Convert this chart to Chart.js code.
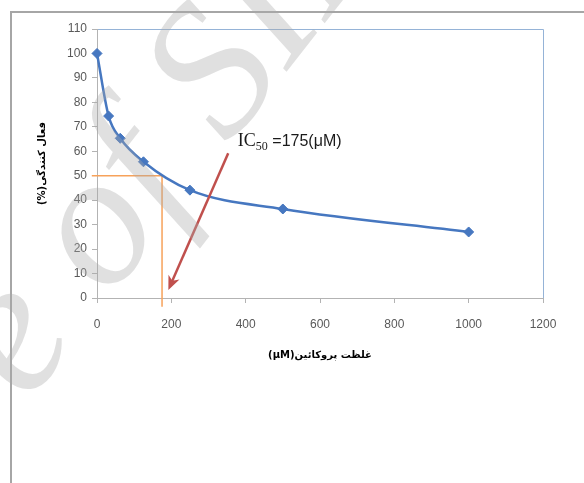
<!DOCTYPE html>
<html>
<head>
<meta charset="utf-8">
<script src="https://cdn.jsdelivr.net/npm/chart.js@4.4.0/dist/chart.umd.min.js"></script>
<style>
  html, body { margin: 0; padding: 0; background: #fff; }
  #wrap { width: 584px; height: 483px; position: relative; }
</style>
</head>
<body>
<div id="wrap"><canvas id="chart" width="584" height="483"></canvas></div>
<script>
// concentration (µM) vs activity (%)
const concentration = [0, 31.25, 62.5, 125, 250, 500, 1000];
const activity = [100, 74.4, 65.3, 55.7, 44.1, 36.4, 27];

// IC50 guide lines (orange)
const guideX = [-14, 175, 175];
const guideY = [50, 50, -3.6];

// red arrow, start -> tip
const arrowX = [353, 192];
const arrowY = [59.2, 3.3];

// annotation anchor
const labelAt = [379, 62.2];

const xTitle = 'غلظت پروکائین(μM)';
const yTitle = 'فعال کنندگی(%)';

const rtl = s => '\u202B' + s + '\u202C';

const extras = {
  id: 'extras',
  beforeDraw(chart) {
    const { ctx, chartArea: a } = chart;
    ctx.save();
    ctx.fillStyle = '#fff';
    ctx.fillRect(0, 0, chart.width, chart.height);
    // outer frame
    ctx.strokeStyle = '#a6a6a6';
    ctx.lineWidth = 2;
    ctx.beginPath();
    ctx.moveTo(11, chart.height);
    ctx.lineTo(11, 12);
    ctx.lineTo(chart.width, 12);
    ctx.stroke();
    // plot area border top / right
    ctx.strokeStyle = '#95b3d7';
    ctx.lineWidth = 1;
    ctx.beginPath();
    ctx.moveTo(a.left, a.top + 0.5);
    ctx.lineTo(a.right + 0.5, a.top + 0.5);
    ctx.lineTo(a.right + 0.5, a.bottom);
    ctx.stroke();
    ctx.restore();
  },
  afterDatasetsDraw(chart) {
    const { ctx } = chart;
    const xs = chart.scales.x, ys = chart.scales.y;
    ctx.save();
    // arrow
    const x0 = xs.getPixelForValue(arrowX[0]), y0 = ys.getPixelForValue(arrowY[0]);
    const x1 = xs.getPixelForValue(arrowX[1]), y1 = ys.getPixelForValue(arrowY[1]);
    const ang = Math.atan2(y1 - y0, x1 - x0);
    ctx.strokeStyle = '#c0504d';
    ctx.fillStyle = '#c0504d';
    ctx.lineWidth = 2.5;
    ctx.beginPath();
    ctx.moveTo(x0, y0);
    ctx.lineTo(x1 - Math.cos(ang) * 8, y1 - Math.sin(ang) * 8);
    ctx.stroke();
    ctx.translate(x1, y1);
    ctx.rotate(ang);
    ctx.beginPath();
    ctx.moveTo(0, 0);
    ctx.lineTo(-14, -6);
    ctx.lineTo(-10, 0);
    ctx.lineTo(-14, 6);
    ctx.closePath();
    ctx.fill();
    ctx.restore();

    // IC50 label
    ctx.save();
    const px = xs.getPixelForValue(labelAt[0]), py = ys.getPixelForValue(labelAt[1]);
    ctx.fillStyle = '#1a1a1a';
    ctx.textAlign = 'left';
    ctx.textBaseline = 'alphabetic';
    ctx.font = '18px "Liberation Serif"';
    ctx.fillText('IC', px, py);
    let w = ctx.measureText('IC').width;
    ctx.font = '12px "Liberation Serif"';
    ctx.fillText('50', px + w, py + 4);
    w += ctx.measureText('50').width;
    ctx.font = '16px "Liberation Sans"';
    ctx.fillText(' =175(μM)', px + w, py);
    ctx.restore();
  },
  afterDraw(chart) {
    // watermark
    const { ctx } = chart;
    ctx.save();
    ctx.font = 'italic 190px "Liberation Serif"';
    ctx.fillStyle = 'rgba(170,170,170,0.36)';
    ctx.textBaseline = 'alphabetic';
    ctx.textAlign = 'left';
    ctx.translate(106, 238);
    ctx.rotate(-52 * Math.PI / 180);
    const before = ctx.measureText('Archive ').width;
    const ow = ctx.measureText('o').width;
    ctx.fillText('Archive of SID', -(before + ow / 2), 40);
    ctx.restore();
  }
};

const blue = '#4677c0';
const tickFont = { family: '"Liberation Sans", Arial, sans-serif', size: 12 };
const titleFont = { family: '"DejaVu Sans", sans-serif', size: 10, weight: 'bold' };

new Chart(document.getElementById('chart').getContext('2d'), {
  type: 'scatter',
  data: {
    datasets: [
      {
        data: concentration.map((x, i) => ({ x, y: activity[i] })),
        showLine: true,
        borderColor: blue,
        backgroundColor: blue,
        borderWidth: 2.5,
        pointStyle: 'rectRot',
        pointRadius: 5,
        pointBorderWidth: 1,
        cubicInterpolationMode: 'monotone',
        clip: false,
        order: 0
      },
      {
        data: guideX.map((x, i) => ({ x, y: guideY[i] })),
        showLine: true,
        borderColor: '#f7a25a',
        borderWidth: 1.5,
        pointRadius: 0,
        tension: 0,
        clip: false,
        order: 1
      }
    ]
  },
  options: {
    responsive: false,
    animation: false,
    events: [],
    layout: { padding: { left: 0, right: 41, top: 29, bottom: 0 } },
    plugins: { legend: { display: false }, tooltip: { enabled: false } },
    scales: {
      x: {
        type: 'linear',
        min: 0,
        max: 1200,
        ticks: { stepSize: 200, color: '#595959', font: tickFont, padding: 14, callback: v => String(v) },
        grid: { drawOnChartArea: false, drawTicks: true, tickLength: 5, color: '#b3b3b3' },
        border: { color: '#b3b3b3' },
        title: { display: true, text: rtl(xTitle), color: '#000', font: titleFont, padding: { top: 0, bottom: 122 } },
        afterFit(s) { s.height = 483 - 298; }
      },
      y: {
        min: 0,
        max: 110,
        ticks: { stepSize: 10, color: '#595959', font: tickFont, padding: 5, callback: v => String(v) },
        grid: { drawOnChartArea: false, drawTicks: true, tickLength: 5, color: '#b3b3b3' },
        border: { color: '#b3b3b3' },
        title: { display: true, text: rtl(yTitle), color: '#000', font: titleFont, padding: { top: 36, bottom: 0 } },
        afterFit(s) { s.width = 97; }
      }
    }
  },
  plugins: [extras]
});
</script>
</body>
</html>
